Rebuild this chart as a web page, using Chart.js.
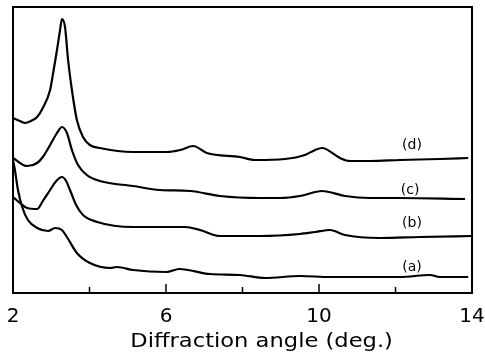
<!DOCTYPE html>
<html>
<head>
<meta charset="utf-8">
<script src="https://cdn.jsdelivr.net/npm/chart.js@4"></script>
<style>
    html, body { margin: 0; padding: 0; background: #fff; }
    #wrap { width: 485px; height: 352px; }
</style>
</head>
<body>
<div id="wrap"><canvas id="myChart"></canvas></div>
<script>

// diffraction angle (deg.) and relative intensity
const xA = [2.00, 2.05, 2.13, 2.24, 2.39, 2.63, 2.92, 3.10, 3.28, 3.41, 3.67, 4.01, 4.54, 4.72, 5.14, 6.01, 6.35, 7.15, 7.93, 8.59, 9.50, 10.29, 12.12, 12.90, 13.16, 13.90];
const yA = [133, 123, 103, 86, 73, 65, 62, 65, 63, 56, 40, 30, 25, 26, 23, 21, 24, 19, 18, 15, 17, 16, 16, 18, 16, 16];

const xB = [2.00, 2.18, 2.37, 2.63, 2.78, 2.97, 3.13, 3.28, 3.39, 3.49, 3.65, 3.83, 4.20, 5.14, 6.50, 6.89, 7.41, 8.46, 9.50, 9.90, 10.29, 10.68, 11.59, 12.64, 14.00];
const yB = [96, 90, 85, 84, 92, 103, 112, 116, 112, 103, 88, 78, 71, 66, 66, 63, 57, 57, 59, 61, 63, 58, 55, 56, 57];

const xC = [2.00, 2.37, 2.63, 2.78, 2.97, 3.15, 3.28, 3.41, 3.54, 3.70, 3.93, 4.27, 5.14, 5.84, 6.63, 7.41, 8.46, 8.98, 9.50, 10.08, 10.68, 11.33, 12.12, 13.82];
const yC = [135, 127, 130, 136, 148, 160, 166, 160, 143, 128, 118, 112, 107, 103, 102, 97, 95, 95, 97, 102, 97, 95, 95, 94];

const xD = [2.00, 2.18, 2.31, 2.47, 2.63, 2.78, 2.97, 3.05, 3.15, 3.23, 3.28, 3.36, 3.44, 3.54, 3.67, 3.83, 4.01, 4.27, 5.14, 6.03, 6.37, 6.71, 7.07, 7.93, 8.33, 9.11, 9.63, 9.90, 10.08, 10.55, 10.81, 11.33, 12.12, 13.16, 13.90];
const yD = [175, 172, 170, 172, 176, 185, 203, 220, 243, 263, 274, 266, 233, 203, 173, 156, 148, 145, 141, 141, 143, 147, 140, 136, 133, 134, 138, 143, 145, 135, 132, 132, 133, 134, 135];

const curveLabels = ['(a)', '(b)', '(c)', '(d)'];
const labelX = [12.43, 12.43, 12.38, 12.43];
const labelY = [26, 70, 103, 148];

const xTicks = [2, 4, 6, 8, 10, 12, 14];
const xTickLabels = ['2', '', '6', '', '10', '', '14'];
const xTitle = 'Diffraction angle (deg.)';

const fontName = "'DejaVu Sans', 'Liberation Sans', Arial, sans-serif";

function toPoints(xs, ys) {
    return xs.map((x, i) => ({ x: x, y: ys[i] }));
}

function makeSet(xs, ys) {
    return {
        data: toPoints(xs, ys),
        borderColor: '#000',
        borderWidth: 2.2,
        pointRadius: 0,
        fill: false,
        tension: 0.4,
        cubicInterpolationMode: 'monotone'
    };
}

// frame, inward tick marks, axis title and the (a)-(d) labels
const framePlugin = {
    id: 'frame',
    afterDraw(chart) {
        const c = chart.ctx;
        const area = chart.chartArea;
        const xs = chart.scales.x;
        const ys = chart.scales.y;
        c.save();
        c.strokeStyle = '#000';
        c.lineWidth = 2;
        c.strokeRect(area.left, area.top, area.right - area.left, area.bottom - area.top);

        c.lineWidth = 1.5;
        xTicks.forEach((t, i) => {
            if (t == xs.min || t == xs.max) return;
            let px = xs.getPixelForValue(t);
            let len = xTickLabels[i] ? 9 : 6;
            c.beginPath();
            c.moveTo(px, area.bottom);
            c.lineTo(px, area.bottom - len);
            c.stroke();
        });

        c.fillStyle = '#000';
        c.font = '14px ' + fontName;
        c.textAlign = 'center';
        c.textBaseline = 'middle';
        curveLabels.forEach((lab, i) => {
            c.fillText(lab, xs.getPixelForValue(labelX[i]), ys.getPixelForValue(labelY[i]));
        });

        // title sits a bit right of centre in the original, and is wide
        c.font = '20px ' + fontName;
        c.translate(xs.getPixelForValue(8.5), 342);
        c.scale(1.13, 1);
        c.fillText(xTitle, 0, 0);
        c.restore();
    }
};

const ctx = document.getElementById('myChart');

const config = {
    type: 'line',
    data: {
        datasets: [
            makeSet(xA, yA),
            makeSet(xB, yB),
            makeSet(xC, yC),
            makeSet(xD, yD)
        ]
    },
    options: {
        responsive: true,
        maintainAspectRatio: false,
        animation: false,
        layout: {
            padding: { left: 13, right: 13, top: 7, bottom: 0 }
        },
        scales: {
            x: {
                type: 'linear',
                min: 2,
                max: 14,
                afterBuildTicks: (axis) => {
                    axis.ticks = xTicks.map(v => ({ value: v }));
                },
                afterFit: (axis) => {
                    axis.height = 59;
                    axis.paddingLeft = 0;
                    axis.paddingRight = 0;
                },
                ticks: {
                    autoSkip: false,
                    maxRotation: 0,
                    padding: 6,
                    color: '#000',
                    font: { family: fontName, size: 20, lineHeight: 1 },
                    callback: (value) => xTickLabels[xTicks.indexOf(value)]
                },
                grid: { display: false },
                border: { display: false },
                title: { display: false }
            },
            y: {
                display: false,
                min: 0,
                max: 286
            }
        },
        plugins: {
            legend: { display: false },
            tooltip: { enabled: false }
        }
    },
    plugins: [framePlugin]
};

const myChart = new Chart(ctx, config);
</script>
</body>
</html>
